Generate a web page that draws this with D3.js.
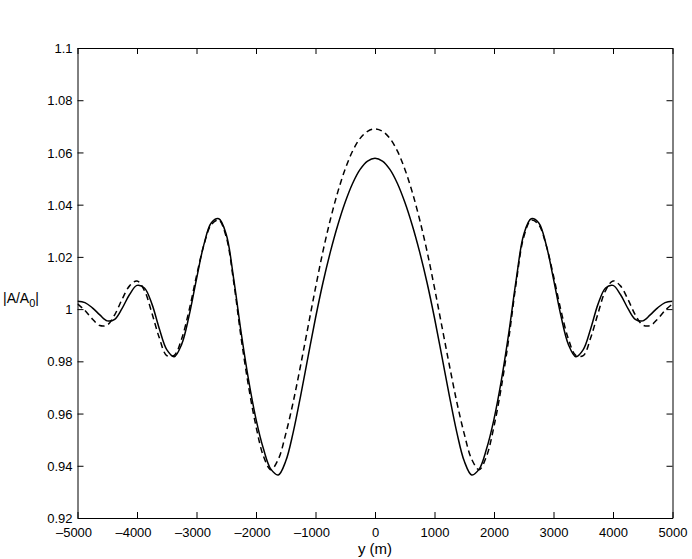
<!DOCTYPE html>
<html>
<head>
<meta charset="utf-8">
<script src="https://cdn.jsdelivr.net/npm/d3@7/dist/d3.min.js"></script>
<style>
  html, body { margin: 0; padding: 0; background: #fff; }
  svg { display: block; font-family: "Liberation Sans", Arial, Helvetica, sans-serif; }
</style>
</head>
<body>
<svg id="chart" width="692" height="559"></svg>
<script>
// ---- data ----
const yPositions = [
  -5000,-4875,-4750,-4625,-4500,-4375,-4250,-4125,-4000,-3875,-3750,-3625,-3500,-3375,-3250,-3125,-3000,-2875,-2750,-2625,
  -2500,-2375,-2250,-2125,-2000,-1875,-1750,-1625,-1500,-1375,-1250,-1125,-1000,-875,-750,-625,-500,-375,-250,-125,
  0,
  125,250,375,500,625,750,875,1000,1125,1250,1375,1500,1625,1750,1875,2000,2125,2250,2375,2500,
  2625,2750,2875,3000,3125,3250,3375,3500,3625,3750,3875,4000,4125,4250,4375,4500,4625,4750,4875,5000
];
const solidValues = [
  1.0030,1.0025,1.0005,0.9978,0.9955,0.9961,1.0003,1.0056,1.0091,1.0081,1.0020,0.9925,0.9845,0.9818,0.9865,0.9974,1.0115,1.0248,1.0331,1.0346,
  1.0286,1.0116,0.9911,0.9729,0.9579,0.9465,0.9387,0.9365,0.9418,0.9528,0.9668,0.9818,0.9966,1.0101,1.0219,1.0322,1.0410,1.0482,1.0535,1.0567,
  1.0578,
  1.0567,1.0535,1.0482,1.0410,1.0322,1.0219,1.0101,0.9966,0.9818,0.9668,0.9528,0.9418,0.9365,0.9387,0.9465,0.9579,0.9729,0.9911,1.0116,1.0286,
  1.0346,1.0331,1.0248,1.0115,0.9974,0.9865,0.9818,0.9845,0.9925,1.0020,1.0081,1.0091,1.0056,1.0003,0.9961,0.9955,0.9978,1.0005,1.0025,1.0030
];
const dashedValues = [
  1.0020,0.9995,0.9962,0.9937,0.9939,0.9978,1.0038,1.0089,1.0108,1.0071,0.9985,0.9890,0.9822,0.9823,0.9886,0.9995,1.0127,1.0246,1.0324,1.0341,
  1.0276,1.0104,0.9890,0.9704,0.9551,0.9437,0.9385,0.9425,0.9522,0.9644,0.9785,0.9933,1.0081,1.0221,1.0343,1.0449,1.0537,1.0606,1.0654,1.0681,
  1.0690,
  1.0681,1.0654,1.0606,1.0537,1.0449,1.0343,1.0221,1.0081,0.9933,0.9785,0.9644,0.9522,0.9425,0.9385,0.9437,0.9551,0.9704,0.9890,1.0104,1.0276,
  1.0341,1.0324,1.0246,1.0127,0.9995,0.9886,0.9823,0.9822,0.9890,0.9985,1.0071,1.0108,1.0089,1.0038,0.9978,0.9939,0.9937,0.9962,0.9995,1.0020
];
const xTicks = [-5000,-4000,-3000,-2000,-1000,0,1000,2000,3000,4000,5000];
const yTicks = [0.92,0.94,0.96,0.98,1,1.02,1.04,1.06,1.08,1.1];
const xDomain = [-5000, 5000];
const yDomain = [0.92, 1.1];

// ---- layout ----
const svg = d3.select("#chart");
const L = 77.5, R = 672.5, T = 48, B = 518;
const x = d3.scaleLinear().domain(xDomain).range([L, R]);
const y = d3.scaleLinear().domain(yDomain).range([B, T]);
const fmtY = d => String(+d.toFixed(2));
const fmtX = d => d < 0 ? "\u2013" + Math.abs(d) : String(d);

const fontSize = 13;

// bottom axis
const gB = svg.append("g").attr("transform", `translate(0,${B})`)
  .call(d3.axisBottom(x).tickValues(xTicks).tickFormat(fmtX).tickSize(-6).tickSizeOuter(0).tickPadding(9.8));
// top axis
const gT = svg.append("g").attr("transform", `translate(0,${T})`)
  .call(d3.axisTop(x).tickValues(xTicks).tickFormat("").tickSize(-6).tickSizeOuter(0));
// left axis
const gL = svg.append("g").attr("transform", `translate(${L},0)`)
  .call(d3.axisLeft(y).tickValues(yTicks).tickFormat(fmtY).tickSize(-6).tickSizeOuter(0).tickPadding(5));
// right axis
const gR = svg.append("g").attr("transform", `translate(${R},0)`)
  .call(d3.axisRight(y).tickValues(yTicks).tickFormat("").tickSize(-6).tickSizeOuter(0));

[gB, gT, gL, gR].forEach(g => {
  g.selectAll(".domain").attr("stroke", "#000").attr("stroke-width", 1);
  g.selectAll(".tick line").attr("stroke", "#000").attr("stroke-width", 1);
  g.selectAll("text").attr("fill", "#000").attr("font-size", fontSize)
    .attr("font-family", "'Liberation Sans', Arial, Helvetica, sans-serif");
});
gL.selectAll("text").attr("dy", "0.35em");
// negative labels: digits centred on the tick, minus sign hangs to the left
gB.selectAll(".tick text").attr("dx", d => d < 0 ? -4 : 0);

// curves
const data = yPositions.map((p, i) => ({ p, s: solidValues[i], d: dashedValues[i] }));
svg.append("clipPath").attr("id", "clip").append("rect")
  .attr("x", L).attr("y", T).attr("width", R - L).attr("height", B - T);
const lineS = d3.line().x(d => x(d.p)).y(d => y(d.s)).curve(d3.curveCatmullRom.alpha(0.5));
const lineD = d3.line().x(d => x(d.p)).y(d => y(d.d)).curve(d3.curveCatmullRom.alpha(0.5));

svg.append("path").datum(data).attr("d", lineD).attr("clip-path", "url(#clip)")
  .attr("fill", "none").attr("stroke", "#000").attr("stroke-width", 1.5)
  .attr("stroke-dasharray", "6,4");
svg.append("path").datum(data).attr("d", lineS).attr("clip-path", "url(#clip)")
  .attr("fill", "none").attr("stroke", "#000").attr("stroke-width", 1.5);

// axis labels
svg.append("text").attr("x", (L + R) / 2).attr("y", 554).attr("text-anchor", "middle")
  .attr("font-size", 15).attr("fill", "#000").text("y (m)");

const yl = svg.append("text").attr("x", 3).attr("y", 303).attr("font-size", 14).attr("fill", "#000");
yl.append("tspan").text("|A/A");
yl.append("tspan").attr("dy", 4).attr("font-size", 11).text("0");
yl.append("tspan").attr("dy", -4).text("|");
</script>
</body>
</html>
